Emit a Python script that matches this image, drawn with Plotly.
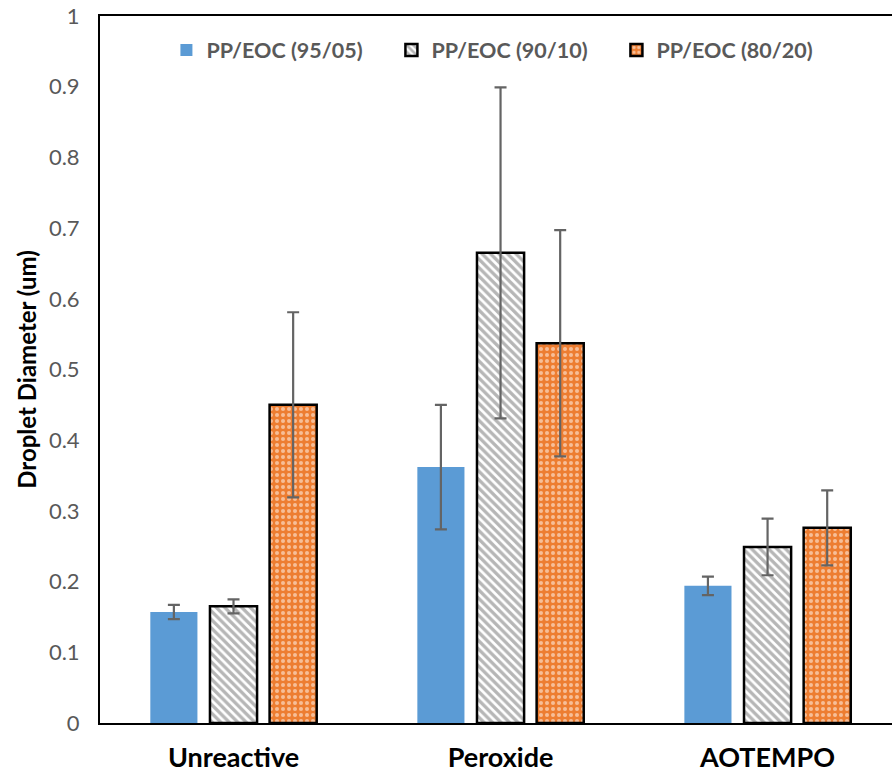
import plotly.graph_objects as go

# Treatments on the x axis
categories = ["Unreactive", "Peroxide", "AOTEMPO"]

# Blend ratios shown as series
series_names = ["PP/EOC (95/05)", "PP/EOC (90/10)", "PP/EOC (80/20)"]

# Mean droplet diameter (um) per blend, ordered as categories
d_95_05 = [0.157, 0.362, 0.194]
d_90_10 = [0.165, 0.665, 0.249]
d_80_20 = [0.450, 0.537, 0.276]

# Standard deviation (um) per blend
e_95_05 = [0.010, 0.088, 0.013]
e_90_10 = [0.010, 0.234, 0.040]
e_80_20 = [0.131, 0.160, 0.053]

y_ticks = [0, 0.1, 0.2, 0.3, 0.4, 0.5, 0.6, 0.7, 0.8, 0.9, 1]

err_style = dict(type="data", visible=True, color="#646464", thickness=2.2, width=6)

fig = go.Figure()

fig.add_trace(go.Bar(
    name=series_names[0], x=categories, y=d_95_05,
    marker=dict(color="#5B9BD5", line=dict(width=0)),
    error_y=dict(array=e_95_05, **err_style),
))
fig.add_trace(go.Bar(
    name=series_names[1], x=categories, y=d_90_10,
    marker=dict(
        color="white",
        line=dict(color="black", width=2.5),
        pattern=dict(shape="\\", fgcolor="#6E6E6E", bgcolor="white",
                     size=6, solidity=0.55),
    ),
    error_y=dict(array=e_90_10, **err_style),
))
fig.add_trace(go.Bar(
    name=series_names[2], x=categories, y=d_80_20,
    marker=dict(
        color="#ED7D31",
        line=dict(color="black", width=2.5),
        pattern=dict(shape=".", fgcolor="white", bgcolor="#ED7D31",
                     size=6, solidity=0.35),
    ),
    error_y=dict(array=e_80_20, **err_style),
))

fig.update_layout(
    width=892, height=773,
    margin=dict(l=100, r=0, t=16, b=50),
    paper_bgcolor="white", plot_bgcolor="white",
    barmode="group", bargap=0.33, bargroupgap=0.21,
    font=dict(family="Lato, Open Sans, sans-serif", color="#595959"),
    legend=dict(
        orientation="h", x=0.51, xanchor="center", y=0.952, yanchor="middle",
        font=dict(size=21.5, color="#595959", family="Lato, sans-serif", weight="bold"),
        itemwidth=30, bgcolor="rgba(0,0,0,0)",
        entrywidth=180, entrywidthmode="pixels",
    ),
    showlegend=True,
)

fig.update_xaxes(
    range=[-0.5, 2.466],
    showline=True, linecolor="black", linewidth=2, mirror=True,
    showgrid=False, ticks="",
    tickfont=dict(size=27, color="black", family="Lato, sans-serif", weight="bold"),
    ticklabelstandoff=10,
)
fig.update_yaxes(
    range=[0, 1],
    tickvals=y_ticks,
    ticktext=[f"{v:g}" for v in y_ticks],
    showline=True, linecolor="black", linewidth=2,
    showgrid=False, zeroline=False, ticks="",
    tickfont=dict(size=22, color="#595959", family="Lato, sans-serif"),
    ticklabelstandoff=14,
    title=dict(text="Droplet Diameter (um)", standoff=5,
               font=dict(size=24, color="black", family="Lato, sans-serif", weight="bold")),
)

fig.write_html("out.html")
